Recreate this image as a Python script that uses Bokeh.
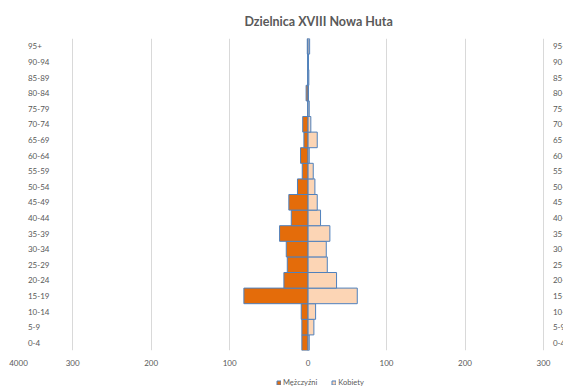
from bokeh.plotting import figure
from bokeh.layouts import column
from bokeh.models import (FactorRange, Range1d, FixedTicker, Legend, LegendItem,
                          ColumnDataSource)
from bokeh.core.properties import value
from bokeh.embed import file_html
from bokeh.resources import INLINE

categories = ["0-4", "5-9", "10-14", "15-19", "20-24", "25-29", "30-34", "35-39",
              "40-44", "45-49", "50-54", "55-59", "60-64", "65-69", "70-74",
              "75-79", "80-84", "85-89", "90-94", "95+"]
men = [7.9, 7.9, 8.7, 81.8, 30.8, 26.5, 27.8, 36.3, 21.4, 24.5, 13.5, 7.4, 9.6,
       5.3, 6.8, 0.5, 2.5, 0.5, 0.5, 1.0]
women = [1.5, 7.4, 9.6, 62.7, 36.3, 24.5, 23.2, 27.8, 15.9, 11.7, 8.7, 6.6, 1.5,
         11.7, 3.5, 1.5, 0.5, 1.0, 0.5, 2.0]
tick_values = [-369, -300, -200, -100, 0, 100, 200, 300]
tick_labels = ["4000", "300", "200", "100", "0", "100", "200", "300"]
series_names = ["Mężczyźni", "Kobiety"]

FONT = "Lato"
GREY = "#595959"
MEN_COLOR = "#E46C0A"
WOMEN_COLOR = "#FCD5B5"
EDGE = "#4F81BD"
LEFT_LABEL_X = -357
RIGHT_LABEL_X = 312

src = ColumnDataSource(dict(cat=categories, men=men, men_left=[-m for m in men],
                            women=women))

p = figure(width=563, height=375,
           y_range=FactorRange(factors=categories, range_padding=0),
           x_range=Range1d(-369, 325.5),
           output_backend="svg", toolbar_location=None,
           min_border_left=18, min_border_right=0, min_border_top=38,
           min_border_bottom=25)

p.hbar(y="cat", left="men_left", right=0, height=1, source=src,
       fill_color=MEN_COLOR, line_color=EDGE, line_width=1)
p.hbar(y="cat", left=0, right="women", height=1, source=src,
       fill_color=WOMEN_COLOR, line_color=EDGE, line_width=1)

p.text(x=LEFT_LABEL_X, y=categories, text=categories, text_align="left",
       text_baseline="middle", text_font=value(FONT), text_font_size="8px",
       text_color=GREY)
p.text(x=RIGHT_LABEL_X, y=categories, text=categories, text_align="left",
       text_baseline="middle", text_font=value(FONT), text_font_size="8px",
       text_color=GREY)

p.yaxis.visible = False
p.ygrid.grid_line_color = None
p.xgrid.grid_line_color = "#D9D9D9"
p.xaxis.ticker = FixedTicker(ticks=tick_values)
p.xaxis.major_label_overrides = {v: l for v, l in zip(tick_values, tick_labels)}
p.xaxis.axis_line_color = None
p.xaxis.major_tick_line_color = None
p.xaxis.minor_tick_line_color = None
p.xaxis.major_tick_out = 0
p.xaxis.major_label_standoff = 9
p.xaxis.major_label_text_font = FONT
p.xaxis.major_label_text_font_size = "8px"
p.xaxis.major_label_text_color = GREY
p.outline_line_color = None

p.title.text = "Dzielnica XVIII Nowa Huta"
p.title.align = "left"
p.title.offset = 226
p.title.standoff = 20
p.title.text_font = FONT
p.title.text_font_size = "12.5px"
p.title.text_font_style = "bold"
p.title.text_color = GREY

# legend strip below the chart (swatch renderers sit outside the visible range)
lf = figure(width=563, height=14, x_range=Range1d(0, 563), y_range=Range1d(0, 14),
            output_backend="svg", toolbar_location=None,
            x_axis_location=None, y_axis_location=None,
            min_border_left=0, min_border_right=0, min_border_top=0,
            min_border_bottom=0)
lf.xgrid.grid_line_color = None
lf.ygrid.grid_line_color = None
lf.outline_line_color = None
swatch = ColumnDataSource(dict(y=[-100], left=[0], right=[1]))
lr_men = lf.hbar(y="y", left="left", right="right", height=1, source=swatch,
                 fill_color=MEN_COLOR, line_color=EDGE, line_width=1)
lr_women = lf.hbar(y="y", left="left", right="right", height=1, source=swatch,
                   fill_color=WOMEN_COLOR, line_color=EDGE, line_width=1)
legend = Legend(items=[LegendItem(label=series_names[0], renderers=[lr_men]),
                       LegendItem(label=series_names[1], renderers=[lr_women])],
                location=(258, 2), orientation="horizontal", padding=0,
                margin=0, spacing=14, glyph_width=5, glyph_height=5,
                label_height=8, label_standoff=2, label_text_font=FONT,
                label_text_font_size="7.5px", label_text_color=GREY,
                border_line_color=None, background_fill_alpha=0)
lf.add_layout(legend)

layout = column(p, lf, spacing=0)
open("out.html", "w").write(file_html(layout, INLINE))
